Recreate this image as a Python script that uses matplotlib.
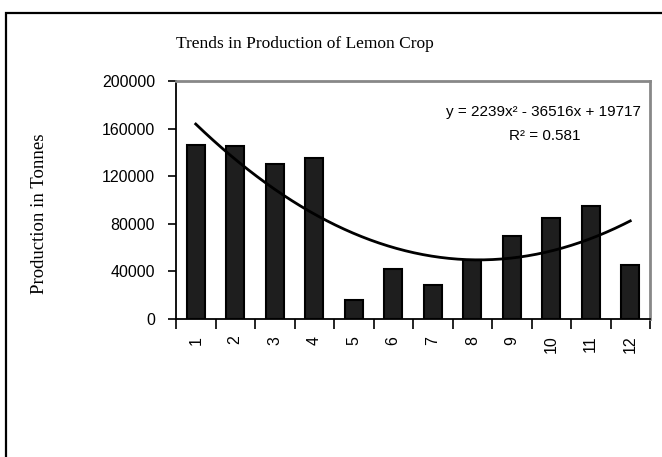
import numpy as np
import matplotlib.pyplot as plt
from matplotlib.patches import Rectangle

# data
years = list(range(1, 13))
production = [146000, 145500, 130000, 135500, 15700, 42300,
              28300, 49600, 69700, 84900, 95200, 45400]
y_ticks = [0, 40000, 80000, 120000, 160000, 200000]
equation = 'y = 2239x² - 36516x + 19717'
r_squared = 'R² = 0.581'

fig = plt.figure(figsize=(6.62, 4.57), dpi=100)
ax = fig.add_axes([176 / 662, 1 - 319 / 457, 474 / 662, 238 / 457])

# outer chart frame
fig.patches.append(Rectangle((6 / 662, -0.05), 1.2, 1 - 13 / 457 + 0.05,
                             transform=fig.transFigure, fill=False,
                             edgecolor='black', linewidth=1.6))

ax.bar(years, production, width=0.46, color='#1e1e1e', edgecolor='black', linewidth=1.5)

# 2nd order polynomial trend line
coef = np.polyfit(years, production, 2)
xs = np.linspace(1, 12, 200)
ax.plot(xs, np.polyval(coef, xs), color='black', linewidth=2)

ax.set_xlim(0.5, 12.5)
ax.set_ylim(0, 200000)
ax.set_yticks(y_ticks)
ax.set_yticklabels([str(v) for v in y_ticks], fontsize=11.5, family='Liberation Sans')
ax.set_xticks(years)
ax.set_xticklabels([str(v) for v in years], rotation=90, fontsize=11.5, family='Liberation Sans')
ax.set_xticks(np.arange(0.5, 13, 1), minor=True)
ax.tick_params(axis='x', which='major', length=0, pad=12)
ax.tick_params(axis='x', which='minor', length=7, width=1.2, direction='out')
ax.tick_params(axis='y', length=6, width=1.2, direction='out', pad=9)

for side in ['top', 'right']:
    ax.spines[side].set_color('#888888')
    ax.spines[side].set_linewidth(2)
for side in ['left', 'bottom']:
    ax.spines[side].set_linewidth(1.3)

ax.text(0.98, 0.87, equation, transform=ax.transAxes, ha='right', va='center',
        fontsize=11, family='Liberation Sans')
ax.text(0.777, 0.77, r_squared, transform=ax.transAxes, ha='center', va='center',
        fontsize=11, family='Liberation Sans')

fig.text(305 / 662, 1 - 44 / 457, 'Trends in Production of Lemon Crop',
         ha='center', va='center', fontsize=12.5, family='Liberation Serif')
fig.text(40 / 662, 1 - 214 / 457, 'Production in Tonnes', rotation=90,
         ha='center', va='center', fontsize=13.5, family='Liberation Serif')

fig.savefig('out.png', dpi=100)
